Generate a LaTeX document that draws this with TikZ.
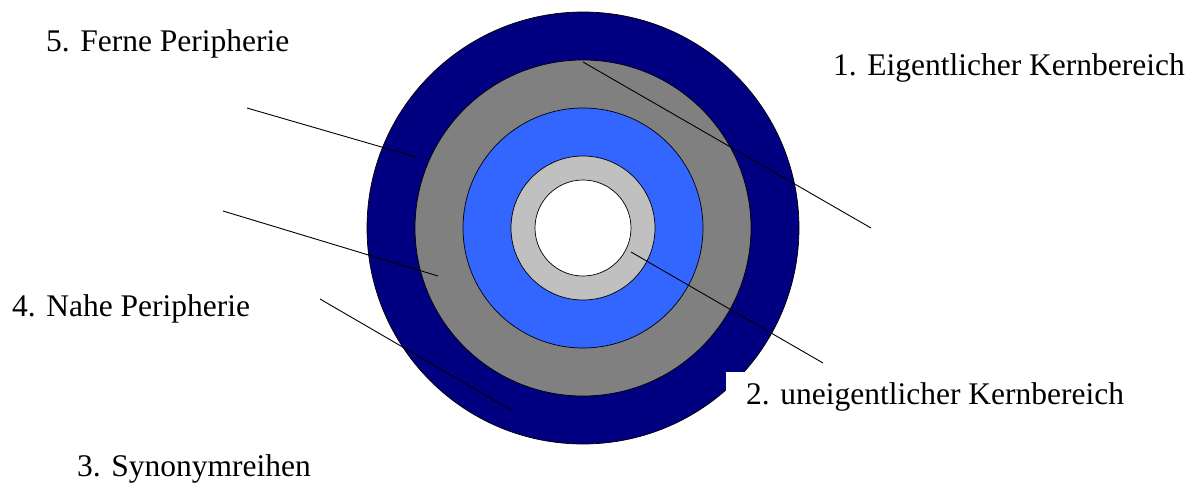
\documentclass[tikz,border=0pt]{standalone}
\usepackage{fontspec}
\setmainfont{Liberation Serif}
\definecolor{ringnavy}{HTML}{000080}
\definecolor{ringgray}{HTML}{808080}
\definecolor{ringblue}{HTML}{3366FF}
\definecolor{ringsilver}{HTML}{C0C0C0}
\tikzset{
  ring/.style={draw=black, line width=0.7pt},
  lbl/.style={font=\fontsize{31.5}{36}\selectfont, inner sep=0pt, anchor=base west},
  leader/.style={draw=black, line width=0.9pt}
}
\begin{document}
\begin{tikzpicture}[x=1pt,y=-1pt]
\useasboundingbox (0,0) rectangle (1200,490);
\coordinate (c) at (583,228);
\fill[ring, fill=ringnavy] (c) circle[radius=216];
\fill[ring, fill=ringgray] (c) circle[radius=168];
\fill[ring, fill=ringblue] (c) circle[radius=120];
\fill[ring, fill=ringsilver] (c) circle[radius=72];
\fill[ring, fill=white] (c) circle[radius=48];
% labels
\node[lbl] (l5) at (46,51) {5. Ferne Peripherie};
\node[lbl] (l1) at (833,75) {1. Eigentlicher Kernbereich};
\node[lbl] (l4) at (12,316) {4. Nahe Peripherie};
\node[lbl, fill=white, inner xsep=20pt, inner ysep=10.5pt, text height=21.5pt] (l2) at (726,404) {2. uneigentlicher Kernbereich};
\node[lbl] (l3) at (77,476) {3. Synonymreihen};
% leader lines
\coordinate (a1) at (583,62);  \coordinate (b1) at (871,228);
\coordinate (a5) at (247,108); \coordinate (b5) at (416,157);
\coordinate (a4) at (223,211); \coordinate (b4) at (438,276);
\coordinate (a3) at (320,299); \coordinate (b3) at (511,410);
\coordinate (a2) at (631,252); \coordinate (b2) at (823,363);
\draw[leader] (a1) -- (b1);
\draw[leader] (a5) -- (b5);
\draw[leader] (a4) -- (b4);
\draw[leader] (a3) -- (b3);
\draw[leader] (a2) -- (b2);
\end{tikzpicture}
\end{document}
